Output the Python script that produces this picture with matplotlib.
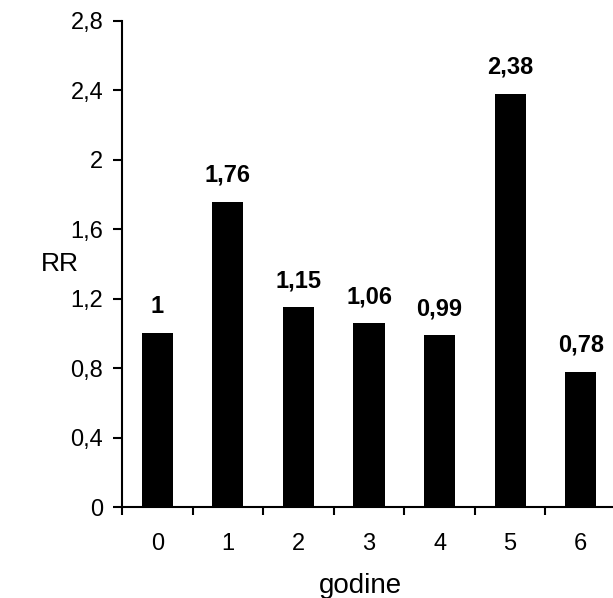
import matplotlib
matplotlib.use("Agg")
import matplotlib.pyplot as plt
import numpy as np

# data
years = ["0", "1", "2", "3", "4", "5", "6"]
rr = [1.0, 1.76, 1.15, 1.06, 0.99, 2.38, 0.78]
rr_labels = ["1", "1,76", "1,15", "1,06", "0,99", "2,38", "0,78"]
y_ticks = [0, 0.4, 0.8, 1.2, 1.6, 2.0, 2.4, 2.8]
y_tick_labels = ["0", "0,4", "0,8", "1,2", "1,6", "2", "2,4", "2,8"]

plt.rcParams['font.family'] = ['Liberation Sans', 'DejaVu Sans']

fig = plt.figure(figsize=(6.13, 5.98), dpi=100)
ax = fig.add_axes([122 / 613, 91 / 598, 494 / 613, 486 / 598])

x = np.arange(len(years))
ax.bar(x, rr, width=0.44, color='black')

# value labels above bars
for xi, val, lab in zip(x, rr, rr_labels):
    ax.annotate(lab, (xi, val), xytext=(0, 14.4), textcoords='offset points',
                ha='center', va='baseline', fontsize=17, fontweight='bold')

ax.set_xlim(-0.5, len(years) - 0.5)
ax.set_ylim(0, 2.8)

# y axis
ax.set_yticks(y_ticks)
ax.set_yticklabels(y_tick_labels, fontsize=17)
ax.tick_params(axis='y', length=6.5, width=1.5, direction='out', pad=7)

# x axis: tick marks between categories, labels at centres
ax.set_xticks(np.arange(-0.5, len(years) - 1, 1.0))
ax.set_xticklabels([])
ax.set_xticks(x, minor=True)
ax.set_xticklabels(years, minor=True, fontsize=17)
ax.tick_params(axis='x', which='major', length=6, width=1.5, direction='out')
ax.tick_params(axis='x', which='minor', length=0, pad=19)

for side in ['top', 'right']:
    ax.spines[side].set_visible(False)
for side in ['left', 'bottom']:
    ax.spines[side].set_linewidth(1.5)

ax.set_ylabel("RR", fontsize=19, rotation=0, ha='center', va='center')
ax.yaxis.set_label_coords(-0.125, 0.5)
ax.set_xlabel("godine", fontsize=20, va='baseline')
ax.xaxis.set_label_coords(0.483, -0.177)

fig.savefig("out.png", dpi=100)
